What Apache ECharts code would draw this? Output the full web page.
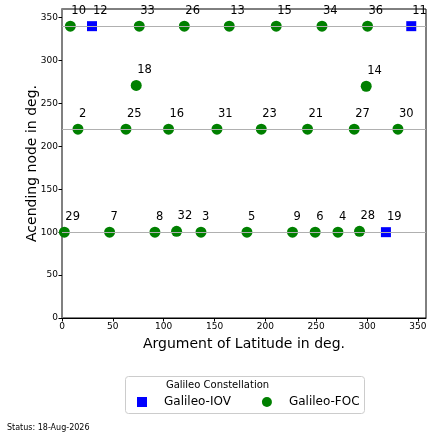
<!DOCTYPE html>
<html>
<head>
<meta charset="utf-8">
<script src="https://cdn.jsdelivr.net/npm/echarts@6/dist/echarts.min.js"></script>
<style>
  html, body { margin: 0; padding: 0; background: #fff; }
  #chart { width: 435px; height: 439px; }
</style>
</head>
<body>
<div id="chart"></div>
<script>
// Galileo-IOV satellites
var iovNames = ['12', '11', '19'];
var iovLat = [29.5, 343.5, 318.6];
var iovNode = [340, 340, 100];

// Galileo-FOC satellites
var focNames = ['10', '33', '26', '13', '15', '34', '36',
                '18', '14',
                '2', '25', '16', '31', '23', '21', '27', '30',
                '29', '7', '8', '32', '3', '5', '9', '6', '4', '28'];
var focLat = [8.2, 76, 120.3, 164.5, 210.7, 255.7, 300.5,
              73, 299.2,
              15.7, 62.9, 104.8, 152.4, 196, 241.5, 287.4, 330.4,
              2.3, 46.8, 91.4, 112.7, 136.7, 181.9, 226.7, 249, 271.4, 292.6];
var focNode = [340, 340, 340, 340, 340, 340, 340,
               271, 270,
               220, 220, 220, 220, 220, 220, 220, 220,
               100, 100, 100, 101, 100, 100, 100, 100, 100, 101];

// orbital planes (horizontal reference lines)
var planeNodes = [100, 220, 340];

var statusText = 'Status: 18-Aug-2026';

function points(lat, node, names) {
  var out = [];
  for (var i = 0; i < lat.length; i++) {
    out.push([lat[i], node[i], names[i]]);
  }
  return out;
}

var pointLabel = {
  show: true,
  position: 'top',
  align: 'left',
  distance: 4,
  offset: [1, 0],
  color: '#000',
  fontFamily: 'DejaVu Sans',
  fontSize: 11.5,
  formatter: function (p) { return p.value[2]; }
};

var myChart = echarts.init(document.getElementById('chart'));

var option = {
  animation: false,
  textStyle: { fontFamily: 'DejaVu Sans' },
  grid: {
    left: 62,
    right: 9,
    top: 9,
    bottom: 121,
    show: true,
    borderColor: '#000',
    borderWidth: 1,
    backgroundColor: 'transparent'
  },
  xAxis: {
    type: 'value',
    min: 0,
    max: 358,
    interval: 50,
    name: 'Argument of Latitude in deg.',
    nameLocation: 'middle',
    nameGap: 19,
    nameTextStyle: { fontSize: 14, color: '#000', fontFamily: 'DejaVu Sans' },
    splitLine: { show: false },
    axisLine: { lineStyle: { color: '#000', width: 1 } },
    axisTick: { length: 3.5, lineStyle: { color: '#000' } },
    axisLabel: { showMaxLabel: false, fontSize: 9, color: '#000', margin: 4 }
  },
  yAxis: {
    type: 'value',
    min: 0,
    max: 360,
    interval: 50,
    name: 'Acending node in deg.',
    nameLocation: 'middle',
    nameGap: 23,
    nameRotate: 90,
    nameMoveOverlap: false,
    nameTextStyle: { fontSize: 14, color: '#000', fontFamily: 'DejaVu Sans' },
    splitLine: { show: false },
    axisLine: { show: true, lineStyle: { color: '#808080', width: 2 } },
    axisTick: { show: true, length: 3.5, lineStyle: { color: '#000' } },
    axisLabel: { showMaxLabel: false, fontSize: 9, color: '#000', margin: 4 }
  },
  legend: {
    left: 137,
    top: 396,
    padding: 0,
    itemGap: 31,
    itemWidth: 10,
    itemHeight: 10,
    textStyle: { fontSize: 12, color: '#000', fontFamily: 'DejaVu Sans', padding: [0, 0, 0, 12] },
    data: [
      { name: 'Galileo-IOV', icon: 'rect' },
      { name: 'Galileo-FOC', icon: 'circle' }
    ]
  },
  graphic: [
    {
      type: 'rect',
      left: 125,
      top: 376,
      z: -1,
      shape: { width: 239, height: 37, r: 3 },
      style: { fill: '#fff', stroke: '#cccccc', lineWidth: 1 }
    },
    {
      type: 'text',
      left: 'center',
      top: 380,
      x: 0,
      style: {
        text: 'Galileo Constellation',
        fill: '#000',
        font: '10px "DejaVu Sans"'
      }
    },
    {
      type: 'text',
      left: 7,
      top: 424,
      style: {
        text: statusText,
        fill: '#000',
        font: '8px "DejaVu Sans"'
      }
    }
  ],
  series: [
    {
      name: 'planes',
      type: 'line',
      data: [],
      z: 1,
      silent: true,
      markLine: {
        silent: true,
        symbol: 'none',
        label: { show: false },
        lineStyle: { color: '#b0b0b0', width: 1, type: 'solid' },
        data: planeNodes.map(function (v) { return { yAxis: v }; })
      }
    },
    {
      name: 'Galileo-IOV',
      type: 'scatter',
      symbol: 'rect',
      symbolSize: 10,
      z: 3,
      clip: false,
      itemStyle: { color: '#0000ff', opacity: 1 },
      label: pointLabel,
      data: points(iovLat, iovNode, iovNames)
    },
    {
      name: 'Galileo-FOC',
      type: 'scatter',
      symbol: 'circle',
      symbolSize: 11,
      z: 3,
      clip: false,
      itemStyle: { color: '#008000', opacity: 1 },
      label: pointLabel,
      data: points(focLat, focNode, focNames)
    }
  ]
};

myChart.setOption(option);
window.addEventListener('resize', function () {
  myChart.resize();
});
</script>
</body>
</html>
